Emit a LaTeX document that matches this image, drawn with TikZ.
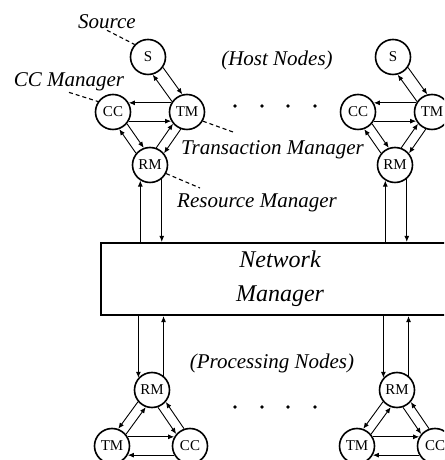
\documentclass[tikz,border=0pt]{standalone}
\usepackage{fontspec}
\setmainfont{Liberation Serif}
\usetikzlibrary{arrows.meta,calc}
\tikzset{circ/.style={draw,circle,line width=1.6pt,minimum size=35pt,inner sep=0pt,font=\fontsize{15}{16}\selectfont},nmbox/.style={draw,line width=2.2pt,minimum width=358pt,minimum height=72pt,align=center,font=\itshape\fontsize{24}{32}\selectfont},arr/.style={-{Latex[length=6pt,width=5pt]},line width=0.9pt},lead/.style={dash pattern=on 4pt off 3pt,line width=1.1pt},lab/.style={font=\itshape\fontsize{21}{23}\selectfont,inner sep=1pt}}

\begin{document}
\begin{tikzpicture}[x=1pt,y=1pt]
\useasboundingbox (0,0) rectangle (444,460);
\begin{scope}
\clip (0,0) rectangle (444,460);
% host nodes
\node[circ] (s1) at (148,403) {S};
\node[circ] (cc1) at (113,348) {CC};
\node[circ] (tm1) at (187,348) {TM};
\node[circ] (rm1) at (150,295) {RM};
\node[circ] (s2) at (393,403) {S};
\node[circ] (cc2) at (358,348) {CC};
\node[circ] (tm2) at (432,348) {TM};
\node[circ] (rm2) at (395,295) {RM};
% network manager
\node[nmbox] (nm) at (280,181) {Network\\[2pt]Manager};
% processing nodes
\node[circ] (rm3) at (152,70) {RM};
\node[circ] (tm3) at (112,14) {TM};
\node[circ] (cc3) at (190,14) {CC};
\node[circ] (rm4) at (397,70) {RM};
\node[circ] (tm4) at (357,14) {TM};
\node[circ] (cc4) at (435,14) {CC};
\foreach \i in {1,2}{
\draw[arr](tm\i.145)--(s\i.-75);\draw[arr](s\i.-35)--(tm\i.105);
\draw[arr](tm\i.150)--(cc\i.30);\draw[arr](cc\i.-30)--(tm\i.-150);
\draw[arr](rm\i.140)--(cc\i.-70);\draw[arr](cc\i.-40)--(rm\i.110);
\draw[arr](rm\i.70)--(tm\i.220);\draw[arr](tm\i.250)--(rm\i.40);
\draw[arr](rm\i.-122 |- nm.north)--(rm\i.-122);
\draw[arr](rm\i.-50)--(rm\i.-50 |- nm.north);
}
\foreach \i in {3,4}{
\draw[arr](rm\i.138 |- nm.south)--(rm\i.138);
\draw[arr](rm\i.51)--(rm\i.51 |- nm.south);
\draw[arr](rm\i.220)--(tm\i.70);\draw[arr](tm\i.40)--(rm\i.250);
\draw[arr](cc\i.109)--(rm\i.-41);\draw[arr](rm\i.-71)--(cc\i.139);
\draw[arr](tm\i.30)--(cc\i.150);\draw[arr](cc\i.-150)--(tm\i.-30);
}
% labels
\node[lab] (srcl) at (107,438) {Source};
\draw[lead](srcl.south)--(s1.137);
\node[lab] (ccl) at (69,378) {CC Manager};
\draw[lead](ccl.south)--(cc1.145);
\node[lab] (hostl) at (277,400) {(Host Nodes)};
\node[lab,anchor=west] (tml) at (180,310) {Transaction Manager};
\coordinate (tmend) at (233,328);
\draw[lead](tm1.-30)--(tmend);
\node[lab,anchor=west] (rml) at (176,257) {Resource Manager};
\coordinate (rmend) at (200,272);
\draw[lead](rm1.-28)--(rmend);
\node[lab] (procl) at (272,97) {(Processing Nodes)};
\foreach \x in {235,262,288,315}{\fill (\x,354) circle (1.8);\fill (\x,53) circle (1.8);}
\end{scope}
\end{tikzpicture}
\end{document}
